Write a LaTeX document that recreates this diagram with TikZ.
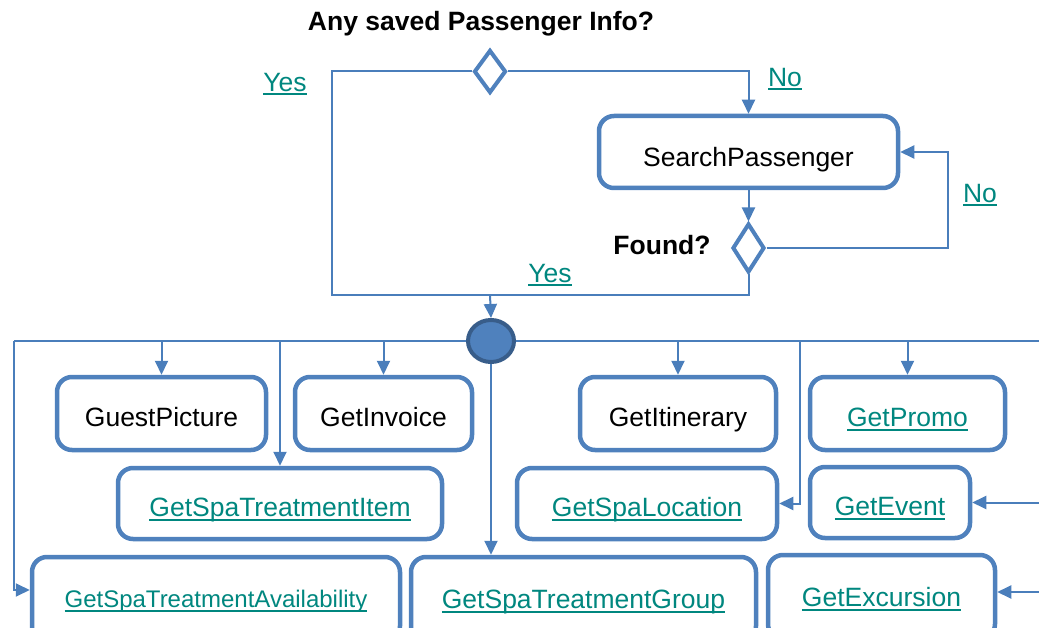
\documentclass[tikz,border=0pt]{standalone}
\usepackage{fontspec}
\setmainfont{Liberation Sans}
\usepackage{xcolor}
\usetikzlibrary{arrows.meta,shapes.geometric}
\definecolor{boxblue}{HTML}{4F81BD}
\definecolor{lineblue}{HTML}{4A7EBB}
\definecolor{forkedge}{HTML}{385D8A}
\definecolor{linkteal}{HTML}{00877F}
\newcommand{\lnk}[1]{\textcolor{linkteal}{\setbox0\hbox{#1}\rlap{\rule[-4pt]{\wd0}{1.8pt}}\box0}}
\tikzset{
    every node/.style={
        font=\fontsize{26.5}{30}\selectfont
    },
    activity/.style={
        draw=boxblue,
        line width=4.5pt,
        rounded corners=15pt,
        fill=white,
        inner sep=0pt,
        text height=26pt,
        text depth=0pt,
        align=center
    },
    lowrow/.style={
        activity,
        minimum height=84pt,
        text height=19pt
    },
    decision/.style={
        diamond,
        draw=boxblue,
        line width=4pt,
        fill=white,
        inner sep=0pt,
        minimum width=32pt
    },
    flow/.style={
        draw=lineblue,
        line width=2pt
    },
    flowarrow/.style={
        flow,
        -{Triangle[length=14pt,width=13pt]}
    }
}
\begin{document}
\begin{tikzpicture}[x=1pt,y=-1pt]
    \useasboundingbox (0,0) rectangle (1039,628);
    \clip (0,0) rectangle (1039,628);

    \node[font=\fontsize{26.5}{30}\selectfont\bfseries] (asksaved) at (481,24) {Any saved Passenger Info?};
    \node[decision, minimum height=43pt] (q1) at (490,71.5) {};
    \node[activity, minimum width=299pt, minimum height=72pt, text height=29pt] (search) at (748.5,152) {SearchPassenger};
    \node[decision, minimum height=49pt] (q2) at (748.5,248) {};
    \node[font=\fontsize{26.5}{30}\selectfont\bfseries] (found) at (662,245) {Found?};

    \node (yes1) at (285,84) {\lnk{Yes}};
    \node (no1) at (785,79) {\lnk{No}};
    \node (no2) at (980,195) {\lnk{No}};
    \node (yes2) at (550,275) {\lnk{Yes}};

    \coordinate (yesturn) at (332,295);
    \coordinate (merge) at (490,295);
    \coordinate (loopturn) at (948,248);
    \draw[flow] (q1.west) -| (yesturn) -- (merge);
    \draw[flowarrow] (q1.east) -| (search.north);
    \draw[flowarrow] (search.south) -- (q2.north);
    \draw[flowarrow] (q2.east) -- (loopturn) |- (search.east);
    \draw[flow] (q2.south) |- (merge);

    \node[ellipse, fill=boxblue, draw=forkedge, line width=4pt, minimum width=46pt, minimum height=42pt] (fork) at (491,341) {};
    \draw[flowarrow] (merge) -- (fork.north);

    \node[activity, minimum width=209pt, minimum height=73pt] (guest) at (161.5,413.5) {GuestPicture};
    \node[activity, minimum width=177pt, minimum height=73pt] (invoice) at (383.5,413.5) {GetInvoice};
    \node[activity, minimum width=196pt, minimum height=73pt] (itin) at (678,413.5) {GetItinerary};
    \node[activity, minimum width=195pt, minimum height=73pt] (promo) at (907.5,413.5) {\lnk{GetPromo}};
    \node[activity, minimum width=324pt, minimum height=71pt] (spaitem) at (280,503.5) {\lnk{GetSpaTreatmentItem}};
    \node[activity, minimum width=260pt, minimum height=71pt] (spaloc) at (647,503.5) {\lnk{GetSpaLocation}};
    \node[activity, minimum width=160pt, minimum height=71pt] (event) at (890,502.5) {\lnk{GetEvent}};
    \node[lowrow, minimum width=368pt, text height=17pt, font=\fontsize{24}{28}\selectfont] (spaavail) at (216,599) {\lnk{GetSpaTreatmentAvailability}};
    \node[lowrow, minimum width=345pt] (spagroup) at (583.5,599) {\lnk{GetSpaTreatmentGroup}};
    \node[lowrow, minimum width=227pt] (excursion) at (881.5,597) {\lnk{GetExcursion}};

    \coordinate (busL) at (14,341);
    \coordinate (edgeR) at (1039,341);
    \coordinate (locdrop) at (800,341);
    \coordinate (availin) at ([yshift=9pt]spaavail.west);
    \coordinate (excin) at ([yshift=5pt]excursion.east);
    \draw[flow] (busL) -- (fork.west);
    \draw[flow] (fork.east) -- (edgeR);
    \foreach \n in {guest,invoice,itin,promo,spaitem}
        \draw[flowarrow] (\n.north |- busL) -- (\n.north);
    \draw[flowarrow] (fork.south) -- (fork.south |- spagroup.north);
    \draw[flowarrow] (locdrop) |- (spaloc.east);
    \draw[flowarrow] (busL) |- (availin);
    \draw[flowarrow] (event.east -| edgeR) -- (event.east);
    \draw[flowarrow] (excin -| edgeR) -- (excin);
\end{tikzpicture}
\end{document}
